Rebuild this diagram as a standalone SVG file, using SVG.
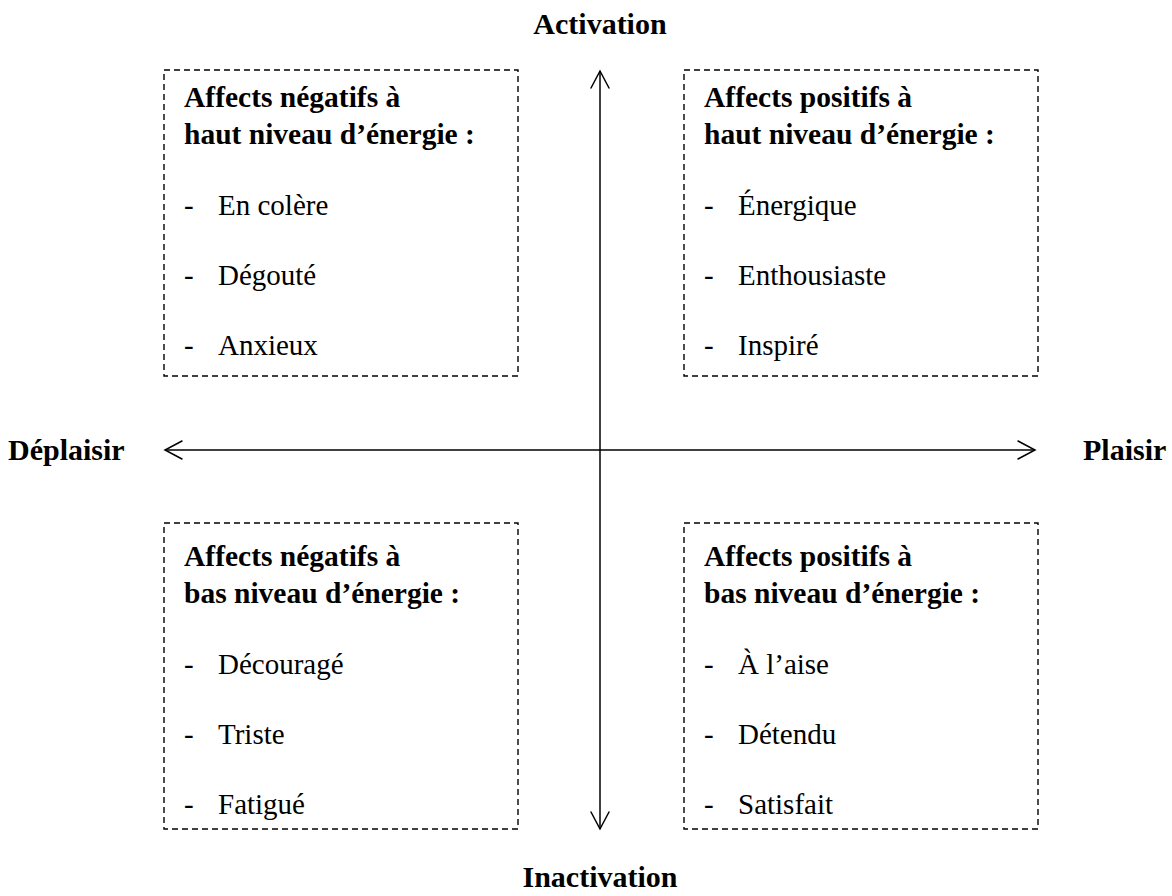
<svg xmlns="http://www.w3.org/2000/svg" width="1172" height="896" viewBox="0 0 1172 896">
  <defs>
    <style>
      .box { fill: none; stroke: #000; stroke-width: 1.4; stroke-dasharray: 6 4; }
      .axis { fill: none; stroke: #000; stroke-width: 1.5; }
      .head { fill: none; stroke: #000; stroke-width: 1.5; stroke-linecap: round; stroke-linejoin: miter; }
      .title { font-family: "Liberation Serif", "Times New Roman", serif; font-size: 29.5px; font-weight: bold; fill: #000; }
      .item { font-family: "Liberation Serif", "Times New Roman", serif; font-size: 29px; fill: #000; }
      .label { font-family: "Liberation Serif", "Times New Roman", serif; font-size: 30px; font-weight: bold; fill: #000; }
    </style>
  </defs>
  <rect width="1172" height="896" fill="#fff"/>

  <!-- axes -->
  <g id="connectors">
    <line class="axis" x1="600" y1="71" x2="600" y2="829"/>
    <polyline class="head" points="591,88 600,71 609,88"/>
    <polyline class="head" points="591,812 600,829 609,812"/>
    <line class="axis" x1="165" y1="450" x2="1035" y2="450"/>
    <polyline class="head" points="182,441 165,450 182,459"/>
    <polyline class="head" points="1018,441 1035,450 1018,459"/>
  </g>

  <!-- axis labels -->
  <g id="label-activation"><text class="label" x="600" y="34" text-anchor="middle">Activation</text></g>
  <g id="label-inactivation"><text class="label" x="600" y="887" text-anchor="middle">Inactivation</text></g>
  <g id="label-deplaisir"><text class="label" x="8" y="460">Déplaisir</text></g>
  <g id="label-plaisir"><text class="label" x="1083" y="460">Plaisir</text></g>

  <!-- quadrant: negative, high energy -->
  <g id="neg-high">
    <rect class="box" x="164" y="70" width="354" height="306"/>
    <text class="title" x="184" y="107">Affects négatifs à</text>
    <text class="title" x="184" y="144">haut niveau d’énergie :</text>
    <text class="item" x="184" y="215">-</text><text class="item" x="218" y="215">En colère</text>
    <text class="item" x="184" y="285">-</text><text class="item" x="218" y="285">Dégouté</text>
    <text class="item" x="184" y="355">-</text><text class="item" x="218" y="355">Anxieux</text>
  </g>

  <!-- quadrant: positive, high energy -->
  <g id="pos-high">
    <rect class="box" x="684" y="70" width="354" height="306"/>
    <text class="title" x="704" y="107">Affects positifs à</text>
    <text class="title" x="704" y="144">haut niveau d’énergie :</text>
    <text class="item" x="704" y="215">-</text><text class="item" x="738" y="215">Énergique</text>
    <text class="item" x="704" y="285">-</text><text class="item" x="738" y="285">Enthousiaste</text>
    <text class="item" x="704" y="355">-</text><text class="item" x="738" y="355">Inspiré</text>
  </g>

  <!-- quadrant: negative, low energy -->
  <g id="neg-low">
    <rect class="box" x="164" y="523" width="354" height="306"/>
    <text class="title" x="184" y="566">Affects négatifs à</text>
    <text class="title" x="184" y="603">bas niveau d’énergie :</text>
    <text class="item" x="184" y="674">-</text><text class="item" x="218" y="674">Découragé</text>
    <text class="item" x="184" y="744">-</text><text class="item" x="218" y="744">Triste</text>
    <text class="item" x="184" y="814">-</text><text class="item" x="218" y="814">Fatigué</text>
  </g>

  <!-- quadrant: positive, low energy -->
  <g id="pos-low">
    <rect class="box" x="684" y="523" width="354" height="306"/>
    <text class="title" x="704" y="566">Affects positifs à</text>
    <text class="title" x="704" y="603">bas niveau d’énergie :</text>
    <text class="item" x="704" y="674">-</text><text class="item" x="738" y="674">À l’aise</text>
    <text class="item" x="704" y="744">-</text><text class="item" x="738" y="744">Détendu</text>
    <text class="item" x="704" y="814">-</text><text class="item" x="738" y="814">Satisfait</text>
  </g>
</svg>
